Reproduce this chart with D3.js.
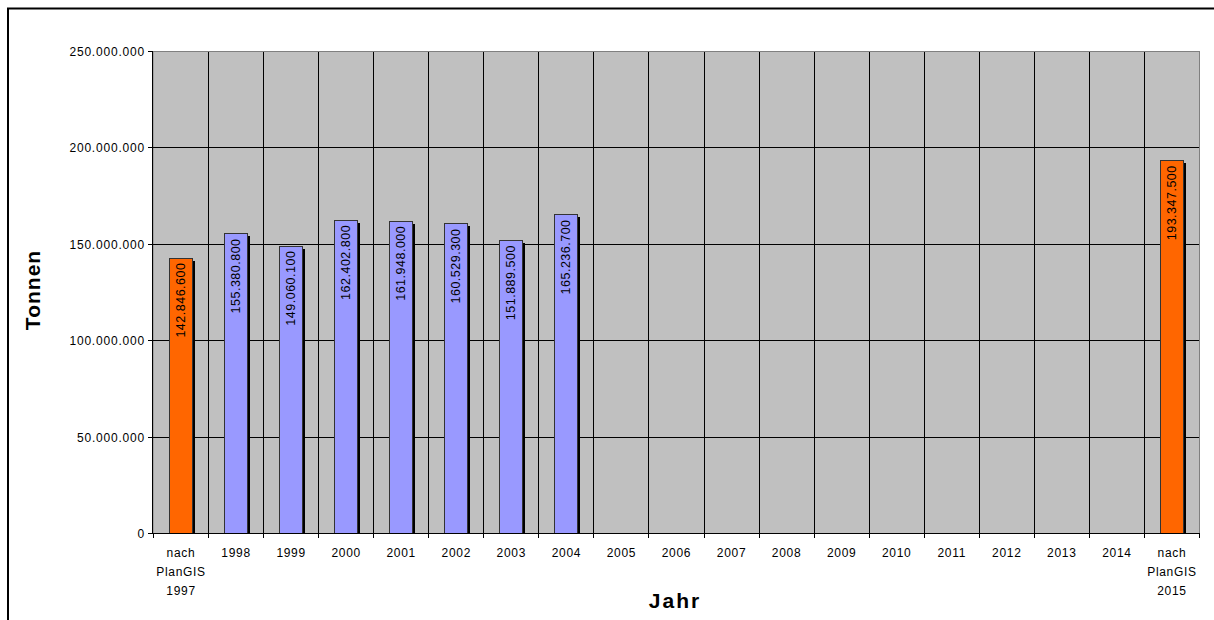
<!DOCTYPE html>
<html>
<head>
<meta charset="utf-8">
<script src="https://cdn.jsdelivr.net/npm/d3@7"></script>
<style>
html,body{margin:0;padding:0;background:#fff;}
svg{display:block;font-family:Arial,"Liberation Sans",sans-serif;}
</style>
</head>
<body>
<svg id="chart" width="1214" height="620"></svg>
<script>
const categories = ["nach PlanGIS 1997","1998","1999","2000","2001","2002","2003","2004","2005","2006","2007","2008","2009","2010","2011","2012","2013","2014","nach PlanGIS 2015"];
const values = [142846600,155380800,149060100,162402800,161948000,160529300,151889500,165236700,null,null,null,null,null,null,null,null,null,null,193347500];
const planFlags = [true,false,false,false,false,false,false,false,false,false,false,false,false,false,false,false,false,false,true];
const yTicks = [0,50000000,100000000,150000000,200000000,250000000];

(function(){
const svg = d3.select("#chart");
const pL = 153, pR = 1199, pT = 51, pB = 533;

// outer frame
svg.append("rect").attr("x",8).attr("y",8.5).attr("width",1230).attr("height",700)
  .attr("fill","none").attr("stroke","#000").attr("stroke-width",2);

const x = d3.scaleBand().domain(categories).range([pL,pR]).paddingInner(0).paddingOuter(0);
const y = d3.scaleLinear().domain([0,250000000]).range([pB,pT]);

// plot background
svg.append("rect").attr("x",pL).attr("y",pT+0.5).attr("width",pR-pL+0.5).attr("height",pB-pT)
  .attr("fill","#c0c0c0").attr("stroke","#808080").attr("stroke-width",1);

// horizontal gridlines
svg.append("g").selectAll("line").data(yTicks.slice(1,-1)).join("line")
  .attr("x1",pL).attr("x2",pR)
  .attr("y1",d=>Math.round(y(d))+0.5).attr("y2",d=>Math.round(y(d))+0.5)
  .attr("stroke","#000").attr("stroke-width",1);

// vertical gridlines at category boundaries
svg.append("g").selectAll("line").data(categories.slice(1)).join("line")
  .attr("x1",d=>Math.round(x(d))+0.5).attr("x2",d=>Math.round(x(d))+0.5)
  .attr("y1",pT+1).attr("y2",pB)
  .attr("stroke","#000").attr("stroke-width",1);

const barW = 23;
const data = categories.map((c,i)=>({c, v: values[i], plan: planFlags[i]})).filter(d=>d.v!=null);

const bars = svg.append("g");
// shadows
bars.selectAll("rect.sh").data(data).join("rect").attr("class","sh")
  .attr("x",d=>Math.round(x(d.c)+x.bandwidth()/2-barW/2)+3)
  .attr("y",d=>Math.round(y(d.v))+3)
  .attr("width",barW).attr("height",d=>pB-Math.round(y(d.v))-3)
  .attr("fill","#000");
// bars
bars.selectAll("rect.b").data(data).join("rect").attr("class","b")
  .attr("x",d=>Math.round(x(d.c)+x.bandwidth()/2-barW/2)+0.5)
  .attr("y",d=>Math.round(y(d.v))+0.5)
  .attr("width",barW).attr("height",d=>pB-Math.round(y(d.v)))
  .attr("fill",d=>d.plan?"#ff6600":"#9999ff")
  .attr("stroke","#333").attr("stroke-width",1);

// value labels
const fmt = v => d3.format(",")(v).replace(/,/g,".");
bars.selectAll("text").data(data).join("text")
  .attr("transform",d=>`translate(${x(d.c)+x.bandwidth()/2+4.5},${y(d.v)+5}) rotate(-90)`)
  .attr("text-anchor","end")
  .attr("font-size","12.5px").attr("letter-spacing","0.5px").attr("fill","#000")
  .text(d=>fmt(d.v));

// axis lines
svg.append("line").attr("x1",pL-0.5).attr("x2",pL-0.5).attr("y1",pT).attr("y2",pB+1).attr("stroke","#000");
svg.append("line").attr("x1",pL-0.5).attr("x2",pR).attr("y1",pB+0.5).attr("y2",pB+0.5).attr("stroke","#000");

// y ticks
const yg = svg.append("g");
yg.selectAll("line").data(yTicks).join("line")
  .attr("x1",pL-5).attr("x2",pL)
  .attr("y1",d=>Math.round(y(d))+0.5).attr("y2",d=>Math.round(y(d))+0.5).attr("stroke","#000");
yg.selectAll("text").data(yTicks).join("text")
  .attr("x",pL-8).attr("y",d=>y(d)+5)
  .attr("text-anchor","end").attr("font-size","12px").attr("letter-spacing","0.8px").attr("fill","#000")
  .text(d=>d===0?"0":fmt(d));

// x ticks
const xg = svg.append("g");
const bounds = categories.map(c=>x(c)).concat([pR]);
xg.selectAll("line").data(bounds).join("line")
  .attr("x1",d=>Math.round(d)+0.5).attr("x2",d=>Math.round(d)+0.5)
  .attr("y1",pB).attr("y2",pB+5).attr("stroke","#000");
xg.selectAll("text").data(categories).join("text")
  .attr("text-anchor","middle").attr("font-size","12px").attr("letter-spacing","0.7px").attr("fill","#000")
  .each(function(c){
    const parts = c.startsWith("nach") ? ["nach","PlanGIS",c.split(" ")[2]] : [c];
    d3.select(this).selectAll("tspan").data(parts).join("tspan")
      .attr("x",x(c)+x.bandwidth()/2+0.5).attr("y",(d,i)=>557+i*19).text(d=>d);
  });

// axis titles
svg.append("text").attr("transform","translate(40,290) rotate(-90)")
  .attr("text-anchor","middle").attr("font-size","21px").attr("letter-spacing","1px").attr("font-weight","bold").text("Tonnen");
svg.append("text").attr("x",675).attr("y",608)
  .attr("text-anchor","middle").attr("font-size","21px").attr("letter-spacing","2px").attr("font-weight","bold").text("Jahr");
})();
</script>
</body>
</html>
